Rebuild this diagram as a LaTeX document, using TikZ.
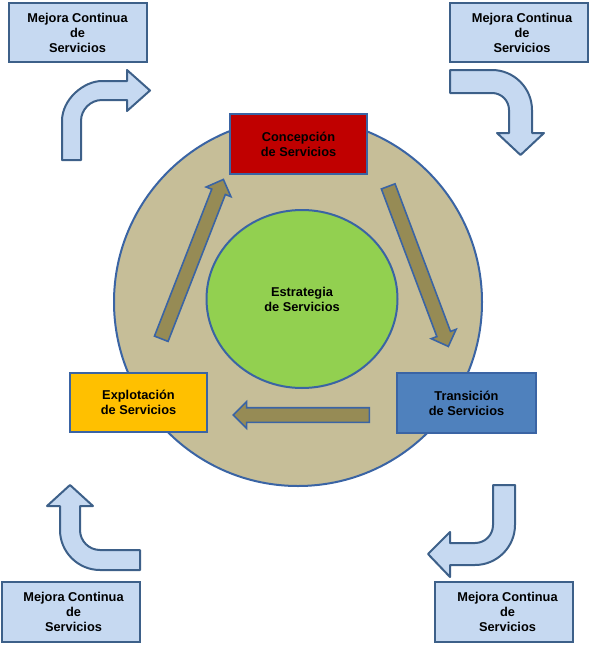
\documentclass[tikz,border=0pt]{standalone}
\usepackage{fontspec}
\setmainfont{Liberation Sans}
\usetikzlibrary{shapes.geometric,shapes.arrows}
\definecolor{borde}{HTML}{3A64A4}
\definecolor{bordeclaro}{HTML}{3D6089}
\definecolor{azulclaro}{HTML}{C6D9F1}
\definecolor{arena}{HTML}{C6BE98}
\definecolor{verde}{HTML}{92D050}
\definecolor{rojo}{HTML}{C00000}
\definecolor{amarillo}{HTML}{FFC000}
\definecolor{azul}{HTML}{4F81BD}
\definecolor{oliva}{HTML}{968B55}
\tikzset{
    caja/.style={
           rectangle,
           draw=borde, line width=2pt,
           minimum width=138pt, minimum height=60pt,
           inner sep=0pt,
           align=center,
           font=\bfseries\fontsize{12.8}{15}\selectfont,
           },
}
\tikzset{
    mejora/.style={
           caja,
           draw=bordeclaro,
           fill=azulclaro,
           },
}
\tikzset{
    curva/.style={
           draw=bordeclaro, line width=2pt,
           fill=azulclaro,
           line join=round,
           },
}
\tikzset{
    flecha/.style={
           single arrow,
           draw=borde, line width=1.6pt,
           fill=oliva,
           single arrow head extend=6pt,
           inner xsep=0pt, inner ysep=6.5pt,
           },
}

\begin{document}
\begin{tikzpicture}[x=1pt,y=-1pt]
\useasboundingbox (0,0) rectangle (590,645);
% ciclo central
\node[circle,draw=borde,line width=2pt,fill=arena,minimum size=368pt](ciclo) at (298,302){};
\node[ellipse,draw=borde,line width=2pt,fill=verde,minimum width=191pt,minimum height=178pt,align=center,font=\bfseries\fontsize{12.8}{15}\selectfont](estr) at (302,299){Estrategia\\de Servicios};
\node[caja,fill=rojo,minimum width=137pt](conc) at (298.5,144){Concepción\\de Servicios};
\node[caja,fill=azul,minimum width=139pt](trans) at (466.5,403){Transición\\de Servicios};
\node[caja,fill=amarillo,minimum width=137pt,minimum height=59pt](expl) at (138.5,402.5){Explotación\\de Servicios};
\node[flecha,minimum height=171pt,rotate=68.7](f1) at (191,262.5){};
\node[flecha,minimum height=171pt,rotate=-69.4](f2) at (417,263){};
\node[flecha,minimum height=136pt,rotate=180](f3) at (305,415){};
% mejora continua
\node[mejora,minimum height=59pt](m1) at (77.5,32.5){Mejora Continua\\de\\Servicios};
\node[mejora,minimum height=59pt](m2) at (518.5,32.5){\hspace{7pt}Mejora Continua\\\hspace{7pt}de\\\hspace{7pt}Servicios};
\node[mejora](m3) at (71,612){\hspace{5pt}Mejora Continua\\\hspace{5pt}de\\\hspace{5pt}Servicios};
\node[mejora](m4) at (504,612){\hspace{7pt}Mejora Continua\\\hspace{7pt}de\\\hspace{7pt}Servicios};
\draw[curva] (62,160) -- (62,121) .. controls (62,99) and (84,81) .. (102,81) -- (127,81) -- (127,70) -- (150,90.5) -- (127,111) -- (127,100) -- (102,100) .. controls (90.4,100) and (81,109.6) .. (81,121) -- (81,160) -- cycle;
\draw[curva] (450,70) -- (492,70) .. controls (514,70) and (532,88) .. (532,110) -- (532,133) -- (544,133) -- (520.5,155) -- (497,133) -- (509,133) -- (509,110) .. controls (509,100.6) and (501.4,93) .. (492,93) -- (450,93) -- cycle;
\draw[curva] (70,485) -- (93,506) -- (80,506) -- (80,530) .. controls (80,541) and (89,550) .. (100,550) -- (140,550) -- (140,570) -- (100,570) .. controls (78,570) and (60,552) .. (60,530) -- (60,506) -- (47,506) -- cycle;
\draw[curva] (493,485) -- (515,485) -- (515,525) .. controls (515,547) and (497,565) .. (475,565) -- (450,565) -- (450,577) -- (428,554) -- (450,532) -- (450,543) -- (475,543) .. controls (485,543) and (493,535) .. (493,525) -- cycle;
\end{tikzpicture}
\end{document}
